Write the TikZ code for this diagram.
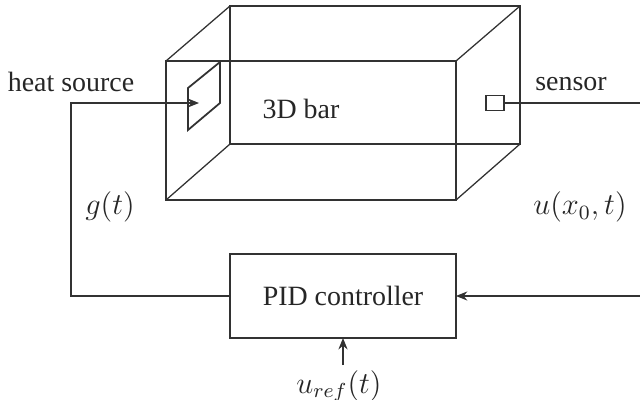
\documentclass[tikz,border=0pt]{standalone}
\usepackage[no-math]{fontspec}
\setmainfont{Liberation Serif}
\usepackage{xcolor}
\usepackage{tikz}
\usetikzlibrary{arrows.meta,positioning,calc}
\definecolor{barline}{RGB}{50,50,50}

\begin{document}
\begin{tikzpicture}[x=0.394pt, y=-0.394pt, line width=0.5pt, every node/.style={text=black!85, font=\fontsize{11}{14}\selectfont}]
    \tikzset{
        barface/.style={draw=barline},
        wire/.style={draw=barline},
        feed/.style={draw=barline, -{Stealth[length=4.5pt,width=3.6pt]}},
        signal/.style={font=\fontsize{11.5}{14}\selectfont},
        blockbox/.style={draw=barline, minimum width=89pt, minimum height=33.1pt, inner sep=0pt, outer sep=0pt}
    }
    \useasboundingbox (0,0) rectangle (640,399);

    % 3D bar: front and back faces
    \draw[barface] (166,61) rectangle (456,200);
    \draw[barface] (230,6) rectangle (520,144);
    \draw[barface] (166,61) -- (230,6);
    \draw[barface] (456,61) -- (520,6);
    \draw[barface] (166,200) -- (230,144);
    \draw[barface] (456,200) -- (520,144);
    \node at (301,109) {3D bar};

    % Heat source patch
    \draw[barface, line width=0.7pt] (188,88) -- (220,62) -- (220,103) -- (188,130) -- cycle;
    \coordinate (heat) at (199,103);
    \node at (71,82) {heat source};
    \node[signal] at (110,207) {$g(t)$};

    % Sensor
    \node[draw=barline, minimum width=7.1pt, minimum height=5.9pt, inner sep=0pt, outer sep=0pt] (sensor) at (495,103) {};
    \coordinate (sensorend) at (640,103);
    \coordinate (inputend) at (640,296);
    \draw[wire] (sensor.east) -- (sensorend);
    \node at (571,84) {sensor};
    \node[signal] at (580,207) {$u(x_0,t)$};

    % Controller
    \node[blockbox] (pid) at (343,296) {PID controller};
    \node[signal] (uref) at (339,386) {$u_{ref}(t)$};
    \coordinate (refstart) at (343,365);

    % Feedback loop
    \draw[feed] (pid.west) -- (71,296) -- (71,103) -- (heat);
    \draw[feed] (inputend) -- (pid.east);
    \draw[feed] (refstart) -- (pid.south);
\end{tikzpicture}
\end{document}
